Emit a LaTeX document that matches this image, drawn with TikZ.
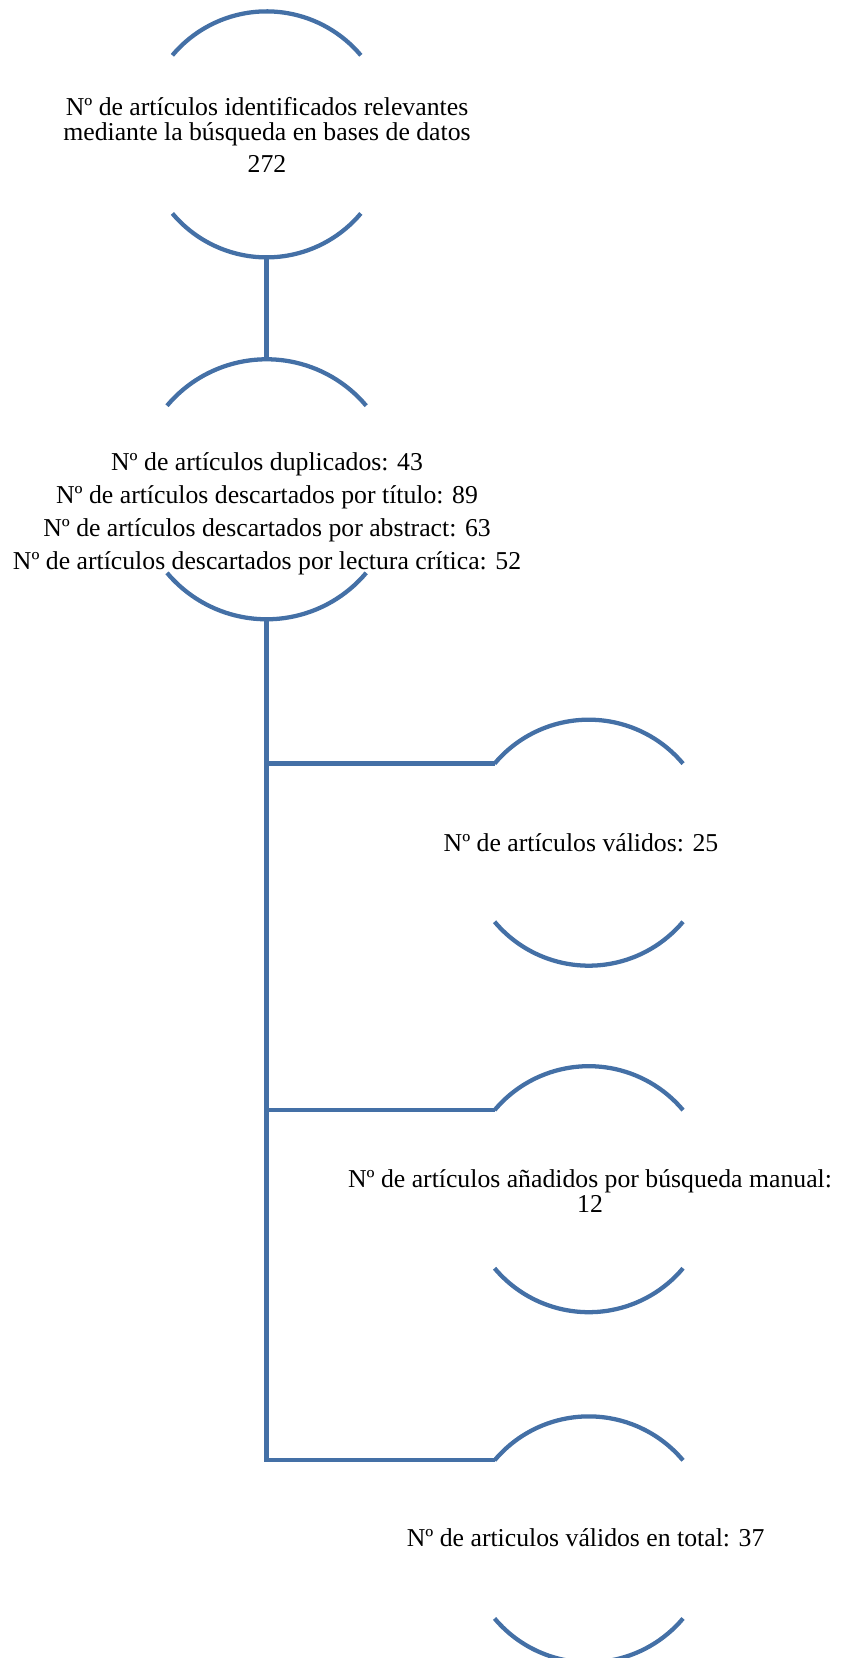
\documentclass[tikz,border=0pt]{standalone}
\usepackage{fontspec}
\setmainfont{Liberation Serif}
\usetikzlibrary{positioning}
\definecolor{ringblue}{RGB}{68,112,166}

\tikzset{
  ring/.style={circle,minimum size=#1,inner sep=0pt,outer sep=0pt},
  conn/.style={draw=ringblue,line width=3.2pt},
  label/.style={align=center,inner sep=0pt,font=\fontsize{19.3}{24.6}\selectfont}
}
% only the upper and lower arcs of each ring are drawn
\newcommand{\ringarcs}[2]{%
  \draw[conn] (#1.140) arc[start angle=140,end angle=40,radius=#2];
  \draw[conn] (#1.220) arc[start angle=220,end angle=320,radius=#2];}

\begin{document}
\begin{tikzpicture}[x=0.75pt,y=0.75pt]
\useasboundingbox (0,0) rectangle (840,1658);

\node[ring=184.5pt] (found) at (266.6,1523.6) {};
\ringarcs{found}{92.25pt}
\node[label,font=\fontsize{19.3}{18.6}\selectfont] (foundtxt) at (267,1523)
  {Nº de artículos identificados relevantes\\mediante la búsqueda en bases de datos\\[6pt]272};

\node[ring=195pt] (discard) at (266.6,1168.7) {};
\ringarcs{discard}{97.5pt}
\node[label] (discardtxt) at (267,1144)
  {Nº de artículos duplicados: 43\\Nº de artículos descartados por título: 89\\
   Nº de artículos descartados por abstract: 63\\Nº de artículos descartados por lectura crítica: 52};

\node[ring=184.5pt] (valid) at (588.8,815.3) {};
\ringarcs{valid}{92.25pt}
\node[label] (validtxt) at (581,815) {Nº de artículos válidos: 25};

\node[ring=184.5pt] (manual) at (588.8,468.8) {};
\ringarcs{manual}{92.25pt}
\node[label,font=\fontsize{19.3}{18.6}\selectfont] (manualtxt) at (590,467)
  {Nº de artículos añadidos por búsqueda manual:\\12};

\node[ring=184.5pt] (total) at (588.8,118.6) {};
\ringarcs{total}{92.25pt}
\node[label] (totaltxt) at (585.6,120) {Nº de articulos válidos en total: 37};

% connectors
\draw[conn] (found.south) -- (discard.north);
\draw[conn] (discard.south) |- (total.140);
\coordinate (validjoin) at (valid.140 -| discard.south);
\coordinate (manualjoin) at (manual.140 -| discard.south);
\draw[conn] (validjoin) -- (valid.140);
\draw[conn] (manualjoin) -- (manual.140);
\end{tikzpicture}
\end{document}
